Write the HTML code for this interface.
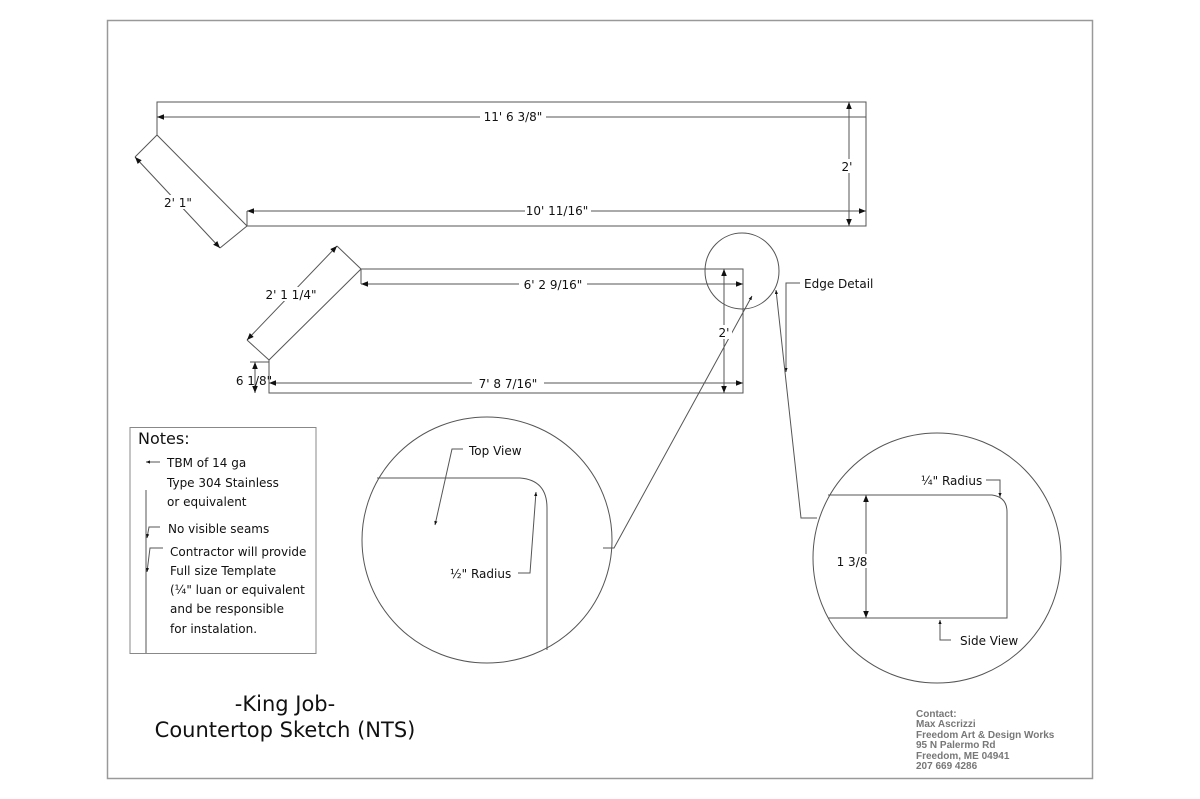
<!DOCTYPE html>
<html><head><meta charset="utf-8"><style>
html,body{margin:0;padding:0;background:#fff;width:1200px;height:799px;overflow:hidden}
svg{display:block}
text{font-family:"DejaVu Sans","Liberation Sans",sans-serif;font-size:12px;fill:#111}
text.c{font-family:"Liberation Sans",sans-serif;font-size:10px;font-weight:600;fill:#777}
</style></head><body>
<svg width="1200" height="799" viewBox="0 0 1200 799">
<defs>
<marker id="a" viewBox="0 0 10 10" refX="10" refY="5" markerWidth="7" markerHeight="7" orient="auto-start-reverse"><path d="M0,1 L10,5 L0,9 z" fill="#111"/></marker>
<marker id="s" viewBox="0 0 10 10" refX="10" refY="5" markerWidth="4" markerHeight="4" orient="auto-start-reverse"><path d="M0,1 L10,5 L0,9 z" fill="#111"/></marker>
</defs>
<rect x="107.5" y="20.5" width="985" height="758" fill="none" stroke="#999" stroke-width="1.5"/>
<g fill="none" stroke="#555" stroke-width="1">
<polyline points="157,135 157,102 866,102 866,226 247,226 157,135"/>
<line x1="247" y1="226" x2="247" y2="211"/>
<line x1="157" y1="135" x2="135" y2="157"/>
<line x1="247" y1="226" x2="220" y2="248"/>
<line x1="157" y1="117" x2="866" y2="117" marker-start="url(#a)"/>
<line x1="247" y1="211" x2="866" y2="211" marker-start="url(#a)" marker-end="url(#a)"/>
<line x1="849" y1="102" x2="849" y2="226" marker-start="url(#a)" marker-end="url(#a)"/>
<line x1="135" y1="157" x2="220" y2="248" marker-start="url(#a)" marker-end="url(#a)"/>
<polyline points="269,360 361,269 743,269 743,393 269,393 269,360"/>
<line x1="361" y1="269" x2="361" y2="284"/>
<line x1="361" y1="269" x2="337" y2="246"/>
<line x1="269" y1="360" x2="247" y2="340"/>
<line x1="247" y1="340" x2="337" y2="246" marker-start="url(#a)" marker-end="url(#a)"/>
<line x1="361" y1="284" x2="743" y2="284" marker-start="url(#a)" marker-end="url(#a)"/>
<line x1="269" y1="383" x2="743" y2="383" marker-start="url(#a)" marker-end="url(#a)"/>
<line x1="724" y1="269" x2="724" y2="393" marker-start="url(#a)" marker-end="url(#a)"/>
<line x1="250" y1="362" x2="269" y2="362"/>
<line x1="255" y1="362" x2="255" y2="393" marker-start="url(#a)" marker-end="url(#a)"/>
<ellipse cx="742" cy="271" rx="37" ry="38"/>
<polyline points="800,283 786,283 786,372" marker-end="url(#s)"/>
<polyline points="817,518 801,518 776,290" marker-end="url(#s)"/>
<polyline points="603,548 614,548 752,296" marker-end="url(#s)"/>
<ellipse cx="487" cy="540" rx="125" ry="123"/>
<path d="M377,478 L520,478 Q547,480 547,508 L547,650"/>
<polyline points="463,449 452,449 435,525" marker-end="url(#s)"/>
<polyline points="518,573 530,573 536,492" marker-end="url(#s)"/>
<ellipse cx="937" cy="558" rx="124" ry="125"/>
<path d="M828,495 L992,495 Q1007,497 1007,512 L1007,618 L828,618"/>
<line x1="866" y1="495" x2="866" y2="618" marker-start="url(#a)" marker-end="url(#a)"/>
<polyline points="986,480 1000,480 1000,497" marker-end="url(#s)"/>
<polyline points="951,640 940,640 940,620" marker-end="url(#s)"/>
<rect x="130" y="427.5" width="186" height="226" stroke="#888"/>
<line x1="146" y1="490" x2="146" y2="653"/>
<polyline points="160,462 146,462" marker-end="url(#s)"/>
<polyline points="160,527 149,527 147,538" marker-end="url(#s)"/>
<polyline points="163,548 150,548 147,572" marker-end="url(#s)"/>
</g>
<g fill="#fff" stroke="none">
<rect x="480" y="110" width="66" height="14"/><rect x="525" y="204" width="66" height="14"/>
<rect x="519" y="277" width="68" height="14"/><rect x="472" y="376" width="72" height="14"/>
<rect x="716" y="325" width="16" height="14"/><rect x="841" y="159" width="14" height="14"/>
<rect x="160" y="195" width="36" height="14"/><rect x="262" y="287" width="58" height="14"/>
<rect x="834" y="554" width="40" height="14"/>
</g>
<text x="513" y="121" text-anchor="middle">11' 6 3/8"</text>
<text x="557" y="215" text-anchor="middle">10' 11/16"</text>
<text x="847" y="171" text-anchor="middle">2'</text>
<text x="178" y="207" text-anchor="middle">2' 1"</text>
<text x="553" y="289" text-anchor="middle">6' 2 9/16"</text>
<text x="508" y="388" text-anchor="middle">7' 8 7/16"</text>
<text x="724" y="337" text-anchor="middle">2'</text>
<text x="291" y="299" text-anchor="middle">2' 1 1/4"</text>
<text x="254" y="385" text-anchor="middle">6 1/8"</text>
<text x="804" y="288">Edge Detail</text>
<text x="469" y="455">Top View</text>
<text x="450" y="578">½" Radius</text>
<text x="921" y="485">¼" Radius</text>
<text x="852" y="566" text-anchor="middle">1 3/8</text>
<text x="960" y="645">Side View</text>
<text x="138" y="444" style="font-size:16px">Notes:</text>
<text x="167" y="467">TBM of 14 ga</text>
<text x="167" y="487">Type 304 Stainless</text>
<text x="167" y="506">or equivalent</text>
<text x="168" y="533">No visible seams</text>
<text x="170" y="556">Contractor will provide</text>
<text x="170" y="575">Full size Template</text>
<text x="170" y="594">(¼" luan or equivalent</text>
<text x="170" y="613">and be responsible</text>
<text x="170" y="633">for instalation.</text>
<text x="285" y="711" text-anchor="middle" style="font-size:21px">-King Job-</text>
<text x="285" y="737" text-anchor="middle" style="font-size:21px">Countertop Sketch (NTS)</text>
<text class="c" x="916" y="717">Contact:</text>
<text class="c" x="916" y="727">Max Ascrizzi</text>
<text class="c" x="916" y="738">Freedom Art &amp; Design Works</text>
<text class="c" x="916" y="748">95 N Palermo Rd</text>
<text class="c" x="916" y="759">Freedom, ME 04941</text>
<text class="c" x="916" y="769">207 669 4286</text>
</svg>
</body></html>
